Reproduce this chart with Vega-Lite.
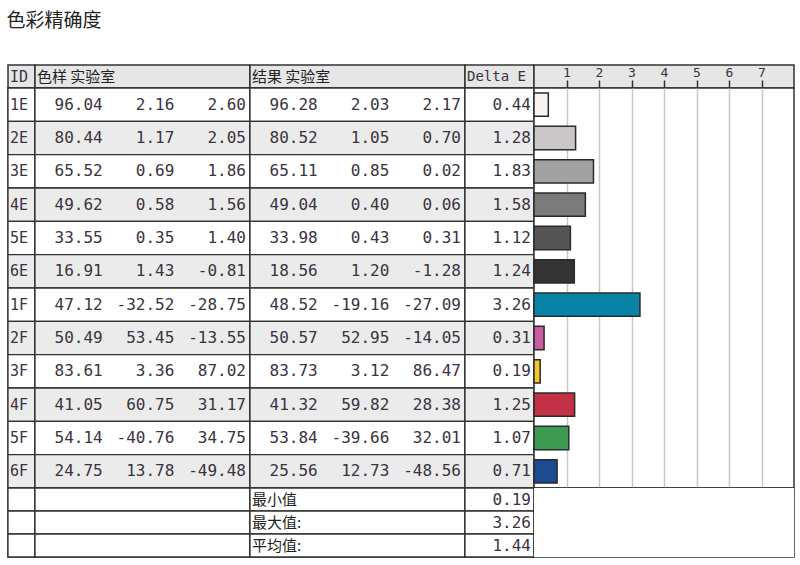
{
  "$schema": "https://vega.github.io/schema/vega-lite/v6.json",
  "title": {"text": "色彩精确度", "anchor": "start", "font": "Noto Sans CJK SC", "fontSize": 19, "fontWeight": "normal", "color": "#222222", "offset": 33},
  "padding": {"left": 6, "top": 12, "right": 0, "bottom": 0},
  "background": "#ffffff",
  "datasets": {
    "rows": [
      {"id": "1E", "sL": 96.04, "sa": 2.16, "sb": 2.60, "rL": 96.28, "ra": 2.03, "rb": 2.17, "dE": 0.44},
      {"id": "2E", "sL": 80.44, "sa": 1.17, "sb": 2.05, "rL": 80.52, "ra": 1.05, "rb": 0.70, "dE": 1.28},
      {"id": "3E", "sL": 65.52, "sa": 0.69, "sb": 1.86, "rL": 65.11, "ra": 0.85, "rb": 0.02, "dE": 1.83},
      {"id": "4E", "sL": 49.62, "sa": 0.58, "sb": 1.56, "rL": 49.04, "ra": 0.40, "rb": 0.06, "dE": 1.58},
      {"id": "5E", "sL": 33.55, "sa": 0.35, "sb": 1.40, "rL": 33.98, "ra": 0.43, "rb": 0.31, "dE": 1.12},
      {"id": "6E", "sL": 16.91, "sa": 1.43, "sb": -0.81, "rL": 18.56, "ra": 1.20, "rb": -1.28, "dE": 1.24},
      {"id": "1F", "sL": 47.12, "sa": -32.52, "sb": -28.75, "rL": 48.52, "ra": -19.16, "rb": -27.09, "dE": 3.26},
      {"id": "2F", "sL": 50.49, "sa": 53.45, "sb": -13.55, "rL": 50.57, "ra": 52.95, "rb": -14.05, "dE": 0.31},
      {"id": "3F", "sL": 83.61, "sa": 3.36, "sb": 87.02, "rL": 83.73, "ra": 3.12, "rb": 86.47, "dE": 0.19},
      {"id": "4F", "sL": 41.05, "sa": 60.75, "sb": 31.17, "rL": 41.32, "ra": 59.82, "rb": 28.38, "dE": 1.25},
      {"id": "5F", "sL": 54.14, "sa": -40.76, "sb": 34.75, "rL": 53.84, "ra": -39.66, "rb": 32.01, "dE": 1.07},
      {"id": "6F", "sL": 24.75, "sa": 13.78, "sb": -49.48, "rL": 25.56, "ra": 12.73, "rb": -48.56, "dE": 0.71}
    ],
    "summary": [
      {"label": "最小值", "value": 0.19},
      {"label": "最大值:", "value": 3.26},
      {"label": "平均值:", "value": 1.44}
    ],
    "headers": [
      {"col": "id", "label": "ID"},
      {"col": "sample", "label": "色样  实验室"},
      {"col": "result", "label": "结果  实验室"},
      {"col": "dE", "label": "Delta E"}
    ]
  },
  "columns": 5,
  "spacing": 0,
  "bounds": "flush",
  "concat": [
    {
      "width": 27, "height": 23, "view": {"fill": "#e6e6e6"},
      "data": {"name": "headers"},
      "transform": [{"filter": "datum.col == 'id'"}],
      "mark": {"type": "text", "align": "left", "dx": 2, "font": "DejaVu Sans Mono", "fontSize": 15, "color": "#3a3340"},
      "encoding": {
        "x": {"field": "col", "type": "nominal", "axis": null, "scale": {"type": "band", "paddingInner": 0, "paddingOuter": 0}, "bandPosition": 0},
        "text": {"field": "label"}
      }
    },
    {
      "width": 215, "height": 23, "view": {"fill": "#e6e6e6"},
      "data": {"name": "headers"},
      "transform": [{"filter": "datum.col == 'sample'"}],
      "mark": {"type": "text", "align": "left", "dx": 2, "font": "Noto Sans CJK SC", "fontSize": 15, "color": "#222222"},
      "encoding": {
        "x": {"field": "col", "type": "nominal", "axis": null, "scale": {"type": "band", "paddingInner": 0, "paddingOuter": 0}, "bandPosition": 0},
        "text": {"field": "label"}
      }
    },
    {
      "width": 215, "height": 23, "view": {"fill": "#e6e6e6"},
      "data": {"name": "headers"},
      "transform": [{"filter": "datum.col == 'result'"}],
      "mark": {"type": "text", "align": "left", "dx": 2, "font": "Noto Sans CJK SC", "fontSize": 15, "color": "#222222"},
      "encoding": {
        "x": {"field": "col", "type": "nominal", "axis": null, "scale": {"type": "band", "paddingInner": 0, "paddingOuter": 0}, "bandPosition": 0},
        "text": {"field": "label"}
      }
    },
    {
      "width": 69, "height": 23, "view": {"fill": "#e6e6e6"},
      "data": {"name": "headers"},
      "transform": [{"filter": "datum.col == 'dE'"}],
      "mark": {"type": "text", "align": "left", "dx": 2, "font": "DejaVu Sans Mono", "fontSize": 14, "color": "#3a3340"},
      "encoding": {
        "x": {"field": "col", "type": "nominal", "axis": null, "scale": {"type": "band", "paddingInner": 0, "paddingOuter": 0}, "bandPosition": 0},
        "text": {"field": "label"}
      }
    },
    {
      "width": 260, "height": 23, "view": {"fill": "#e6e6e6"},
      "data": {"name": "rows"},
      "mark": {"type": "tick", "opacity": 0},
      "encoding": {
        "x": {"field": "dE", "type": "quantitative",
          "scale": {"domain": [0, 8], "nice": false},
          "axis": {"orient": "top", "offset": -23, "values": [1, 2, 3, 4, 5, 6, 7], "title": null, "grid": false, "domain": false,
            "tickSize": 8, "tickColor": "#333333", "tickWidth": 1.5, "labelFont": "DejaVu Sans Mono", "labelFontSize": 13, "labelColor": "#3a3340", "labelPadding": 1}}
      }
    },
    {
      "width": 27, "height": 400,
      "data": {"name": "rows"},
      "transform": [{"window": [{"op": "row_number", "as": "rn"}]}],
      "layer": [
        {
          "mark": {"type": "rect", "stroke": "#333333", "strokeWidth": 1.3},
          "encoding": {
            "y": {"field": "id", "type": "ordinal", "sort": null, "axis": null, "scale": {"paddingInner": 0, "paddingOuter": 0}},
            "fill": {"condition": {"test": "datum.rn % 2 == 0", "value": "#ebebeb"}, "value": "#ffffff"}
          }
        },
        {
          "transform": [{"fold": ["id"], "as": ["col", "val"]}],
          "mark": {"type": "text", "align": "left", "dx": 2, "font": "DejaVu Sans Mono", "fontSize": 15, "color": "#3a3340"},
          "encoding": {
            "y": {"field": "id", "type": "ordinal", "sort": null, "axis": null},
            "x": {"field": "col", "type": "nominal", "axis": null, "scale": {"type": "band", "paddingInner": 0, "paddingOuter": 0}, "bandPosition": 0},
            "text": {"field": "val"}
          }
        }
      ]
    },
    {
      "width": 215, "height": 400,
      "data": {"name": "rows"},
      "transform": [{"window": [{"op": "row_number", "as": "rn"}]}],
      "layer": [
        {
          "mark": {"type": "rect", "stroke": "#333333", "strokeWidth": 1.3},
          "encoding": {
            "y": {"field": "id", "type": "ordinal", "sort": null, "axis": null, "scale": {"paddingInner": 0, "paddingOuter": 0}},
            "fill": {"condition": {"test": "datum.rn % 2 == 0", "value": "#ebebeb"}, "value": "#ffffff"}
          }
        },
        {
          "transform": [{"fold": ["sL", "sa", "sb"], "as": ["col", "val"]}],
          "mark": {"type": "text", "align": "right", "dx": -4, "font": "DejaVu Sans Mono", "fontSize": 16, "color": "#3a3340"},
          "encoding": {
            "y": {"field": "id", "type": "ordinal", "sort": null, "axis": null},
            "x": {"field": "col", "type": "nominal", "sort": ["sL", "sa", "sb"], "axis": null, "scale": {"type": "band", "paddingInner": 0, "paddingOuter": 0}, "bandPosition": 1},
            "text": {"field": "val", "type": "quantitative", "format": ".2f"}
          }
        }
      ]
    },
    {
      "width": 215, "height": 400,
      "data": {"name": "rows"},
      "transform": [{"window": [{"op": "row_number", "as": "rn"}]}],
      "layer": [
        {
          "mark": {"type": "rect", "stroke": "#333333", "strokeWidth": 1.3},
          "encoding": {
            "y": {"field": "id", "type": "ordinal", "sort": null, "axis": null, "scale": {"paddingInner": 0, "paddingOuter": 0}},
            "fill": {"condition": {"test": "datum.rn % 2 == 0", "value": "#ebebeb"}, "value": "#ffffff"}
          }
        },
        {
          "transform": [{"fold": ["rL", "ra", "rb"], "as": ["col", "val"]}],
          "mark": {"type": "text", "align": "right", "dx": -4, "font": "DejaVu Sans Mono", "fontSize": 16, "color": "#3a3340"},
          "encoding": {
            "y": {"field": "id", "type": "ordinal", "sort": null, "axis": null},
            "x": {"field": "col", "type": "nominal", "sort": ["rL", "ra", "rb"], "axis": null, "scale": {"type": "band", "paddingInner": 0, "paddingOuter": 0}, "bandPosition": 1},
            "text": {"field": "val", "type": "quantitative", "format": ".2f"}
          }
        }
      ]
    },
    {
      "width": 69, "height": 400,
      "data": {"name": "rows"},
      "transform": [{"window": [{"op": "row_number", "as": "rn"}]}],
      "layer": [
        {
          "mark": {"type": "rect", "stroke": "#333333", "strokeWidth": 1.3},
          "encoding": {
            "y": {"field": "id", "type": "ordinal", "sort": null, "axis": null, "scale": {"paddingInner": 0, "paddingOuter": 0}},
            "fill": {"condition": {"test": "datum.rn % 2 == 0", "value": "#ebebeb"}, "value": "#ffffff"}
          }
        },
        {
          "transform": [{"fold": ["dE"], "as": ["col", "val"]}],
          "mark": {"type": "text", "align": "right", "dx": -3, "font": "DejaVu Sans Mono", "fontSize": 16, "color": "#3a3340"},
          "encoding": {
            "y": {"field": "id", "type": "ordinal", "sort": null, "axis": null},
            "x": {"field": "col", "type": "nominal", "axis": null, "scale": {"type": "band", "paddingInner": 0, "paddingOuter": 0}, "bandPosition": 1},
            "text": {"field": "val", "type": "quantitative", "format": ".2f"}
          }
        }
      ]
    },
    {
      "width": 260, "height": 400, "view": {"fill": "#ffffff"},
      "data": {"name": "rows"},
      "mark": {"type": "bar", "stroke": "#2a2a2a", "strokeWidth": 1.5},
      "encoding": {
        "y": {"field": "id", "type": "ordinal", "sort": null, "axis": null, "scale": {"paddingInner": 0.3, "paddingOuter": 0.15}},
        "x": {"field": "dE", "type": "quantitative",
          "scale": {"domain": [0, 8], "nice": false},
          "axis": {"values": [1, 2, 3, 4, 5, 6, 7], "title": null, "grid": true, "gridColor": "#c8c8c8", "gridWidth": 1.5, "gridOpacity": 1,
            "ticks": false, "labels": false, "domain": false}},
        "color": {"field": "id", "type": "nominal", "legend": null,
          "scale": {"domain": ["1E", "2E", "3E", "4E", "5E", "6E", "1F", "2F", "3F", "4F", "5F", "6F"],
            "range": ["#f8f3f1", "#c9c7c7", "#a2a2a2", "#7a7a7a", "#555555", "#333333", "#0a84a6", "#c95ba2", "#f1c72e", "#c23046", "#3d9a52", "#1b4a91"]}}
      }
    },
    {
      "width": 27, "height": 69,
      "data": {"name": "summary"},
      "mark": {"type": "rect", "fill": "#ffffff", "stroke": "#333333", "strokeWidth": 1.3},
      "encoding": {
        "y": {"field": "label", "type": "ordinal", "sort": null, "axis": null, "scale": {"paddingInner": 0, "paddingOuter": 0}}
      }
    },
    {
      "width": 215, "height": 69,
      "data": {"name": "summary"},
      "mark": {"type": "rect", "fill": "#ffffff", "stroke": "#333333", "strokeWidth": 1.3},
      "encoding": {
        "y": {"field": "label", "type": "ordinal", "sort": null, "axis": null, "scale": {"paddingInner": 0, "paddingOuter": 0}}
      }
    },
    {
      "width": 215, "height": 69,
      "data": {"name": "summary"},
      "layer": [
        {
          "mark": {"type": "rect", "fill": "#ffffff", "stroke": "#333333", "strokeWidth": 1.3},
          "encoding": {
            "y": {"field": "label", "type": "ordinal", "sort": null, "axis": null, "scale": {"paddingInner": 0, "paddingOuter": 0}}
          }
        },
        {
          "transform": [{"fold": ["label"], "as": ["col", "val"]}],
          "mark": {"type": "text", "align": "left", "dx": 2, "font": "Noto Sans CJK SC", "fontSize": 15, "color": "#222222"},
          "encoding": {
            "y": {"field": "label", "type": "ordinal", "sort": null, "axis": null},
            "x": {"field": "col", "type": "nominal", "axis": null, "scale": {"type": "band", "paddingInner": 0, "paddingOuter": 0}, "bandPosition": 0},
            "text": {"field": "val"}
          }
        }
      ]
    },
    {
      "width": 69, "height": 69,
      "data": {"name": "summary"},
      "layer": [
        {
          "mark": {"type": "rect", "fill": "#ffffff", "stroke": "#333333", "strokeWidth": 1.3},
          "encoding": {
            "y": {"field": "label", "type": "ordinal", "sort": null, "axis": null, "scale": {"paddingInner": 0, "paddingOuter": 0}}
          }
        },
        {
          "transform": [{"fold": ["value"], "as": ["col", "val"]}],
          "mark": {"type": "text", "align": "right", "dx": -3, "font": "DejaVu Sans Mono", "fontSize": 16, "color": "#3a3340"},
          "encoding": {
            "y": {"field": "label", "type": "ordinal", "sort": null, "axis": null},
            "x": {"field": "col", "type": "nominal", "axis": null, "scale": {"type": "band", "paddingInner": 0, "paddingOuter": 0}, "bandPosition": 1},
            "text": {"field": "val", "type": "quantitative", "format": ".2f"}
          }
        }
      ]
    },
    {
      "width": 260, "height": 69, "view": {"fill": "#ffffff"},
      "data": {"name": "summary"},
      "mark": {"type": "rect", "fill": "#ffffff", "strokeWidth": 0},
      "encoding": {
        "y": {"field": "label", "type": "ordinal", "sort": null, "axis": null, "scale": {"paddingInner": 0, "paddingOuter": 0}}
      }
    }
  ],
  "config": {
    "view": {"stroke": "#333333", "strokeWidth": 1.5},
    "locale": {"number": {"decimal": ".", "thousands": ",", "grouping": [3], "currency": ["$", ""], "minus": "-"}}
  }
}
